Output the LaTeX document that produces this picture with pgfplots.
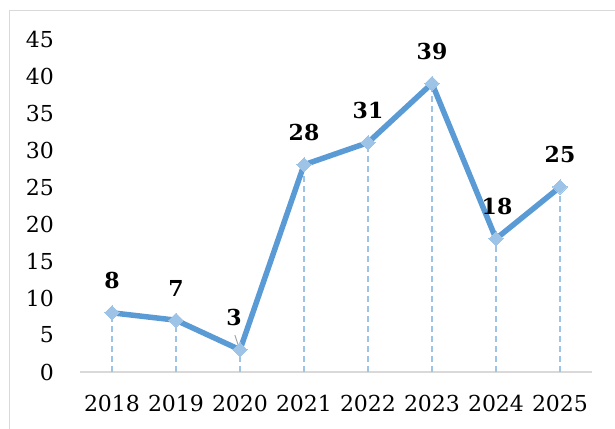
\documentclass[border=0pt]{standalone}
\usepackage{fontspec}
\setmainfont{DejaVu Serif}
\usepackage{pgfplots}
\usepackage{pgfplotstable}
\pgfplotsset{compat=1.18}
\definecolor{lineblue}{HTML}{5B9BD5}
\definecolor{markblue}{HTML}{9DC3E6}
\definecolor{bordergray}{HTML}{D9D9D9}

% x = year index, y = value, dx = label shift (bp)
\pgfplotstableread{
x y dx
0 8 0
1 7 0
2 3 -6
3 28 0
4 31 0
5 39 0
6 18 1
7 25 0
}\datatable

\begin{document}
\begin{tikzpicture}
\useasboundingbox (0,0) rectangle (615bp,429bp);
\draw[bordergray, line width=1.5bp] (9.5bp,-20bp) -- (9.5bp,418.5bp) -- (640bp,418.5bp);
\begin{axis}[
  at={(80bp,57bp)}, anchor=south west,
  scale only axis, width=512bp, height=333bp,
  xmin=-0.5, xmax=7.5, ymin=0, ymax=45,
  axis x line*=bottom, axis y line*=left,
  x axis line style={bordergray, line width=1.5bp, -},
  y axis line style={draw=none},
  xtick={0,1,2,3,4,5,6,7},
  xticklabels={2018,2019,2020,2021,2022,2023,2024,2025},
  ytick={0,5,...,45},
  major tick length=0pt,
  tick label style={font=\fontsize{22bp}{26bp}\selectfont, inner sep=0pt},
  /pgf/number format/assume math mode=true,
  xticklabel style={anchor=north, yshift=-23bp},
  yticklabel style={anchor=east, xshift=-26bp},
  clip=false,
]
% drop lines
\addplot[ycomb, markblue, line width=1.6bp, dash pattern=on 6bp off 4bp, forget plot] table[x=x, y=y] {\datatable};
% main series
\addplot[lineblue, line width=5.5bp, line join=round,
  mark=square*, mark size=5bp,
  mark options={markblue, draw=markblue, line width=0pt, rotate=45},
  visualization depends on={\thisrow{dx} \as \labdx},
  nodes near coords,
  every node near coord/.style={font=\bfseries\fontsize{22bp}{26bp}\selectfont, text=black, anchor=south, inner sep=0pt, yshift=24bp, xshift=\labdx bp},
] table[x=x, y=y] {\datatable};
% leader line of the 2020 label
\addplot[gray!70, line width=1bp, forget plot] coordinates {(1.92,5.0) (1.98,3.4)};
\end{axis}
\end{tikzpicture}
\end{document}
